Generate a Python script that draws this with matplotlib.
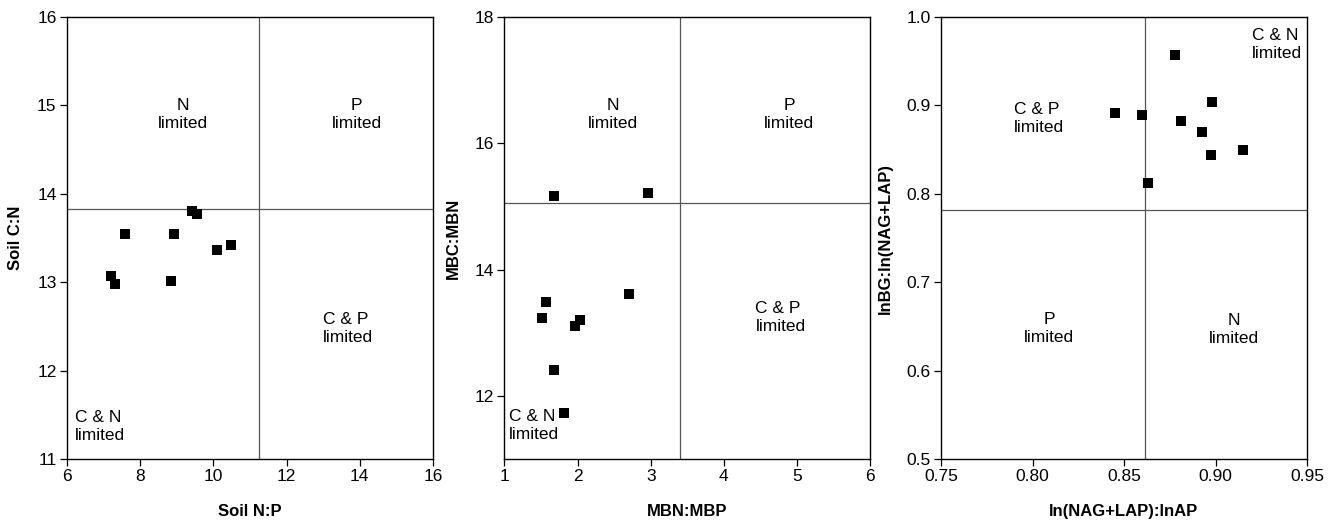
import matplotlib
matplotlib.use("Agg")
import matplotlib.pyplot as plt

plt.rcParams['font.family'] = ['Liberation Sans', 'DejaVu Sans']

# Panel 1: Soil N:P vs Soil C:N
soil_np = [7.19, 7.30, 7.59, 8.83, 8.93, 9.42, 9.54, 10.10, 10.49]
soil_cn = [13.07, 12.98, 13.54, 13.01, 13.54, 13.81, 13.77, 13.36, 13.42]

# Panel 2: MBN:MBP vs MBC:MBN
mbn_mbp = [1.68, 2.96, 1.57, 1.51, 1.96, 2.04, 2.70, 1.68, 1.81]
mbc_mbn = [15.16, 15.21, 13.48, 13.23, 13.10, 13.20, 13.61, 12.41, 11.73]

# Panel 3: ln(NAG+LAP):lnAP vs lnBG:ln(NAG+LAP)
nl_ap = [0.878, 0.898, 0.845, 0.860, 0.881, 0.8925, 0.8975, 0.915, 0.863]
bg_nl = [0.957, 0.904, 0.891, 0.889, 0.8825, 0.870, 0.844, 0.850, 0.812]

panels = [
    dict(x=soil_np, y=soil_cn, xlim=(6, 16), ylim=(11, 16),
         xticks=[6, 8, 10, 12, 14, 16], yticks=[11, 12, 13, 14, 15, 16],
         xfmt='{:g}', yfmt='{:g}', vx=11.25, hy=13.83,
         xlabel='Soil N:P', ylabel='Soil C:N',
         labels=[(9.17, 14.90, 'N\nlimited', 'center'),
                 (13.92, 14.90, 'P\nlimited', 'center'),
                 (13.0, 12.48, 'C & P\nlimited', 'left'),
                 (6.22, 11.37, 'C & N\nlimited', 'left')],
         left=67),
    dict(x=mbn_mbp, y=mbc_mbn, xlim=(1, 6), ylim=(11, 18),
         xticks=[1, 2, 3, 4, 5, 6], yticks=[12, 14, 16, 18],
         xfmt='{:g}', yfmt='{:g}', vx=3.40, hy=15.06,
         xlabel='MBN:MBP', ylabel='MBC:MBN',
         labels=[(2.49, 16.46, 'N\nlimited', 'center'),
                 (4.89, 16.46, 'P\nlimited', 'center'),
                 (4.43, 13.24, 'C & P\nlimited', 'left'),
                 (1.06, 11.53, 'C & N\nlimited', 'left')],
         left=504.3),
    dict(x=nl_ap, y=bg_nl, xlim=(0.75, 0.95), ylim=(0.5, 1.0),
         xticks=[0.75, 0.80, 0.85, 0.90, 0.95], yticks=[0.5, 0.6, 0.7, 0.8, 0.9, 1.0],
         xfmt='{:.2f}', yfmt='{:.1f}', vx=0.8615, hy=0.7816,
         xlabel='ln(NAG+LAP):lnAP', ylabel='lnBG:ln(NAG+LAP)',
         labels=[(0.9199, 0.9688, 'C & N\nlimited', 'left'),
                 (0.790, 0.8852, 'C & P\nlimited', 'left'),
                 (0.809, 0.648, 'P\nlimited', 'center'),
                 (0.910, 0.646, 'N\nlimited', 'center')],
         left=941),
]

W, H = 1335, 525
fig = plt.figure(figsize=(W / 100, H / 100), dpi=100)

for p in panels:
    ax = fig.add_axes([p['left'] / W, (H - 459) / H, 366 / W, 442 / H])
    ax.scatter(p['x'], p['y'], marker='s', s=46, color='black', zorder=3, linewidths=0)
    ax.axvline(p['vx'], color='#555555', lw=0.9, zorder=1)
    ax.axhline(p['hy'], color='#555555', lw=0.9, zorder=1)
    ax.set_xlim(*p['xlim'])
    ax.set_ylim(*p['ylim'])
    ax.set_xticks(p['xticks'])
    ax.set_yticks(p['yticks'])
    ax.set_xticklabels([p['xfmt'].format(v) for v in p['xticks']])
    ax.set_yticklabels([p['yfmt'].format(v) for v in p['yticks']])
    ax.tick_params(direction='out', length=5, width=0.9, labelsize=12.5, pad=2.5)
    for s in ax.spines.values():
        s.set_linewidth(1.0)
    ax.set_xlabel(p['xlabel'], fontsize=12, fontweight='bold', labelpad=14)
    ax.set_ylabel(p['ylabel'], fontsize=12, fontweight='bold', labelpad=10)
    for (lx, ly, txt, ha) in p['labels']:
        ax.text(lx, ly, txt, ha=ha, va='center', fontsize=12.5,
                multialignment='center' if ha == 'center' else 'left', linespacing=1.25)

fig.savefig('out.png', dpi=100)
